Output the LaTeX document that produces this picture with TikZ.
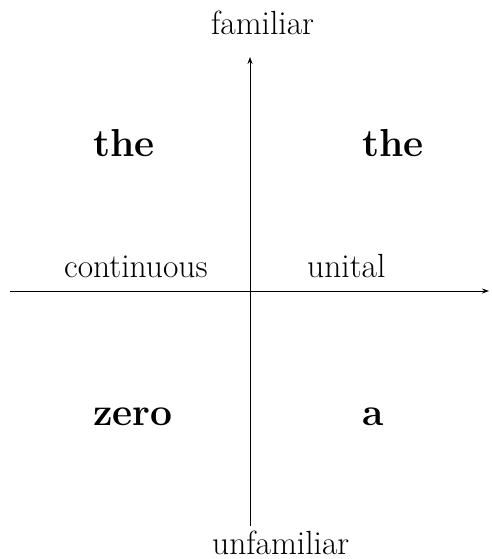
\documentclass[tikz,border=0pt]{standalone}
\usetikzlibrary{arrows.meta}
\begin{document}
\begin{tikzpicture}[x=1pt,y=-1pt,
  axis/.style={line width=0.9pt,-{Stealth[length=7pt,width=5pt]}},
  lbl/.style={inner sep=0pt,anchor=base west,font=\fontsize{33.5}{36}\selectfont},
  big/.style={inner sep=0pt,anchor=base west,font=\fontsize{39}{42}\selectfont\bfseries}]
\useasboundingbox (0,0) rectangle (491,559);
\coordinate (L) at (10,291);
\coordinate (R) at (489,291);
\coordinate (B) at (250,526);
\coordinate (T) at (250,57);
\draw[axis] (L) -- (R);
\draw[axis] (B) -- (T);
\node[lbl] (fam) at (211,35) {familiar};
\node[lbl] (unfam) at (212,554) {unfamiliar};
\node[lbl] (cont) at (64,277) {continuous};
\node[lbl] (unit) at (307,277) {unital};
\node[big] (the1) at (93,157) {the};
\node[big] (the2) at (362,157) {the};
\node[big] (zero) at (93,425) {zero};
\node[big] (a) at (362,425) {a};
\end{tikzpicture}
\end{document}
